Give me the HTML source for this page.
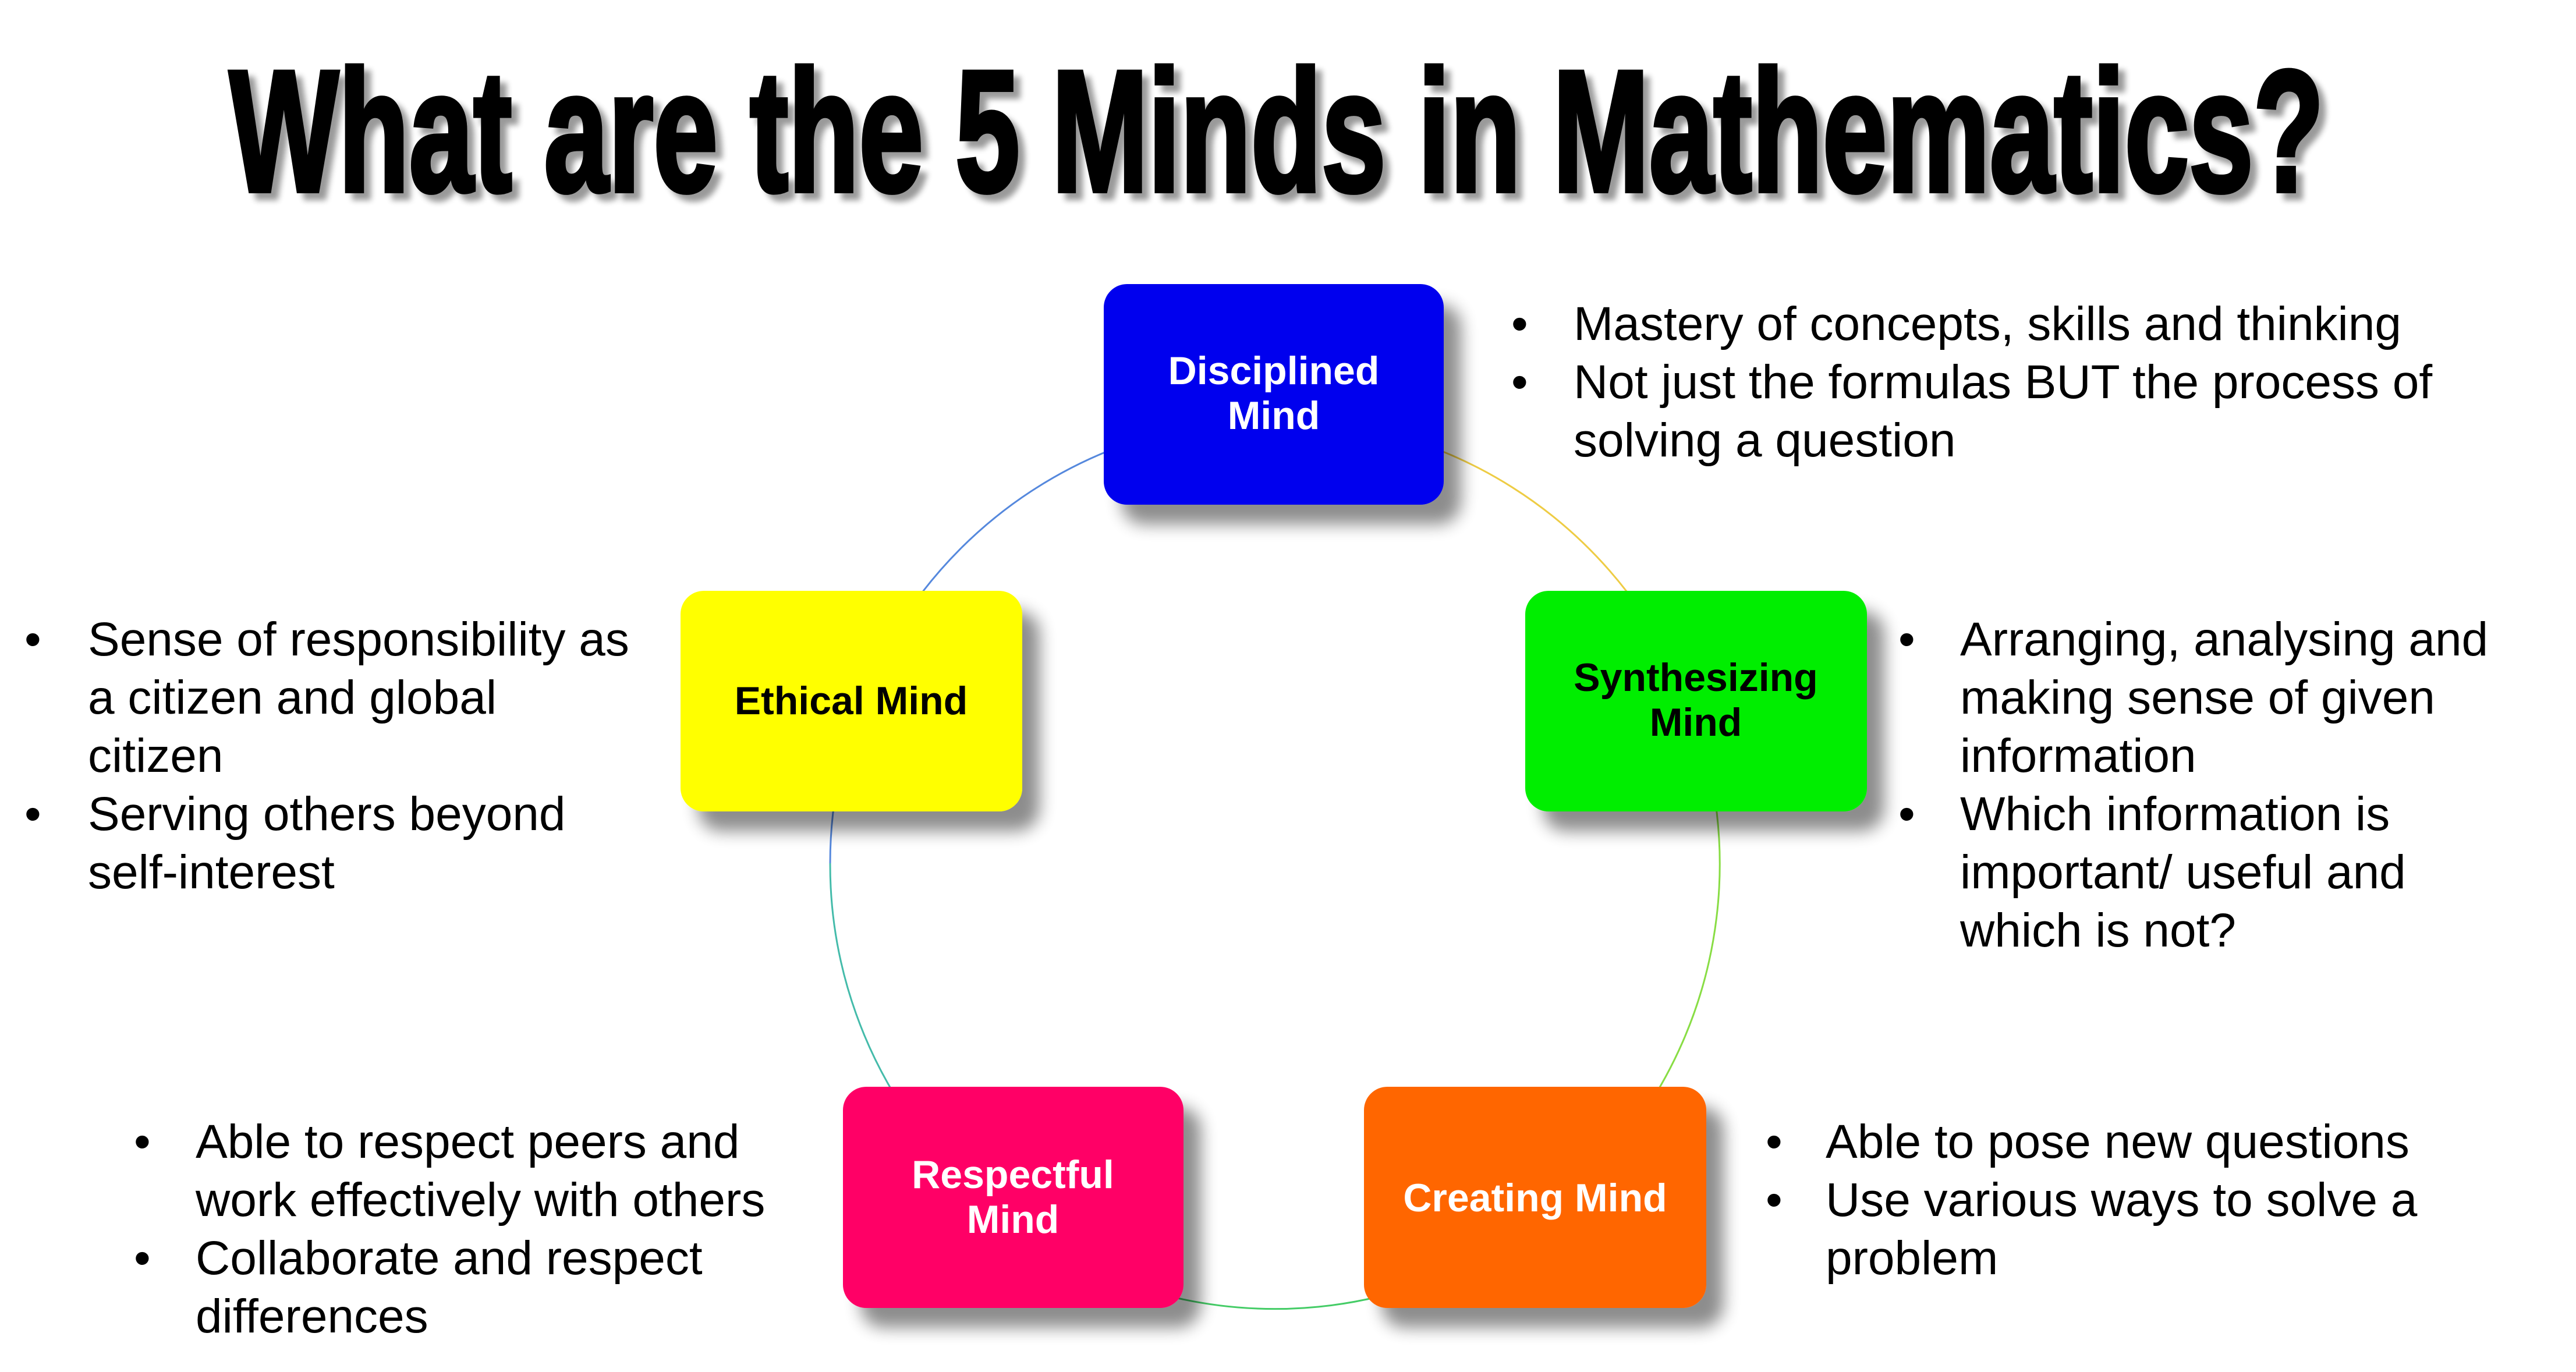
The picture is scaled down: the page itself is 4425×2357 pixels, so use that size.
<!DOCTYPE html>
<html><head><meta charset="utf-8"><style>
html,body{margin:0;padding:0;background:#fff;}
svg{display:block;}
</style></head><body>
<svg width="4425" height="2357" viewBox="0 0 4425 2357" xmlns="http://www.w3.org/2000/svg">
<defs>
<filter id="sh" x="-20%" y="-20%" width="150%" height="160%">
<feGaussianBlur in="SourceAlpha" stdDeviation="14"/>
<feOffset dx="30" dy="34"/>
<feComponentTransfer><feFuncA type="linear" slope="0.45"/></feComponentTransfer>
<feMerge><feMergeNode/><feMergeNode in="SourceGraphic"/></feMerge>
</filter>
<filter id="tsh" x="-5%" y="-10%" width="110%" height="130%">
<feGaussianBlur in="SourceAlpha" stdDeviation="5"/>
<feOffset dx="12" dy="12"/>
<feComponentTransfer><feFuncA type="linear" slope="0.4"/></feComponentTransfer>
<feMerge><feMergeNode/><feMergeNode in="SourceGraphic"/></feMerge>
</filter>
</defs>
<rect width="4425" height="2357" fill="#fff"/>
<text x="394" y="328" font-family="Liberation Sans Narrow, Liberation Sans, sans-serif" font-weight="bold" font-size="297" textLength="3598" lengthAdjust="spacingAndGlyphs" fill="#000" stroke="#000" stroke-width="8" filter="url(#tsh)">What are the 5 Minds in Mathematics?</text>

<g fill="none" stroke-width="3">
<path d="M1426 1483 A764 764 0 0 1 2190 719" stroke="#5588dd"/>
<path d="M2190 719 A764 764 0 0 1 2880 1156" stroke="#eecc44"/>
<path d="M2880 1156 A764 764 0 0 1 2780 1970" stroke="#88dd44"/>
<path d="M2780 1970 A764 764 0 0 1 1600 1970" stroke="#44cc66"/>
<path d="M1600 1970 A764 764 0 0 1 1426 1483" stroke="#44bbaa"/>
</g>

<g font-family="Liberation Sans, sans-serif" font-weight="bold" font-size="68" text-anchor="middle">
<rect x="1896" y="488" width="584" height="379" rx="40" fill="#0000ee" filter="url(#sh)"/>
<text x="2188" y="660" fill="#fff">Disciplined</text><text x="2188" y="737" fill="#fff">Mind</text>
<rect x="2620" y="1015" width="587" height="379" rx="40" fill="#00ee00" filter="url(#sh)"/>
<text x="2913" y="1187" fill="#000">Synthesizing</text><text x="2913" y="1264" fill="#000">Mind</text>
<rect x="2343" y="1867" width="588" height="380" rx="40" fill="#ff6600" filter="url(#sh)"/>
<text x="2637" y="2081" fill="#fff">Creating Mind</text>
<rect x="1448" y="1867" width="585" height="380" rx="40" fill="#ff0066" filter="url(#sh)"/>
<text x="1740" y="2041" fill="#fff">Respectful</text><text x="1740" y="2118" fill="#fff">Mind</text>
<rect x="1169" y="1015" width="587" height="379" rx="40" fill="#ffff00" filter="url(#sh)"/>
<text x="1462" y="1227" fill="#000">Ethical Mind</text>
</g>

<g font-family="Liberation Sans, sans-serif" font-size="82" fill="#000">
<text x="2596" y="584">•</text><text x="2703" y="584">Mastery of concepts, skills and thinking</text>
<text x="2596" y="684">•</text><text x="2703" y="684">Not just the formulas BUT the process of</text>
<text x="2703" y="784">solving a question</text>

<text x="3261" y="1126">•</text><text x="3367" y="1126">Arranging, analysing and</text>
<text x="3367" y="1226">making sense of given</text>
<text x="3367" y="1326">information</text>
<text x="3261" y="1426">•</text><text x="3367" y="1426">Which information is</text>
<text x="3367" y="1526">important/ useful and</text>
<text x="3367" y="1626">which is not?</text>

<text x="3033" y="1989">•</text><text x="3136" y="1989">Able to pose new questions</text>
<text x="3033" y="2089">•</text><text x="3136" y="2089">Use various ways to solve a</text>
<text x="3136" y="2189">problem</text>

<text x="230" y="1989">•</text><text x="336" y="1989">Able to respect peers and</text>
<text x="336" y="2089">work effectively with others</text>
<text x="230" y="2189">•</text><text x="336" y="2189">Collaborate and respect</text>
<text x="336" y="2289">differences</text>

<text x="42" y="1126">•</text><text x="151" y="1126">Sense of responsibility as</text>
<text x="151" y="1226">a citizen and global</text>
<text x="151" y="1326">citizen</text>
<text x="42" y="1426">•</text><text x="151" y="1426">Serving others beyond</text>
<text x="151" y="1526">self-interest</text>
</g>
</svg>
</body></html>
